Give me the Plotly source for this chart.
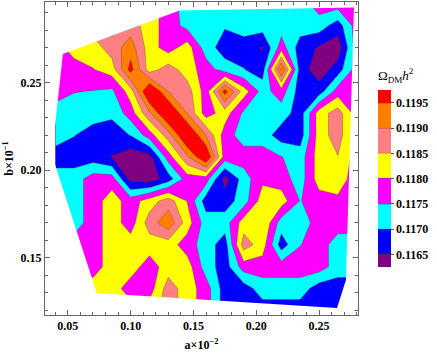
import plotly.graph_objects as go

# grid of the scan (a x 10^-2, b x 10^-1)
a_vals = [0.040, 0.055, 0.070, 0.085, 0.100, 0.115, 0.130, 0.145, 0.160,
          0.175, 0.190, 0.205, 0.220, 0.235, 0.250, 0.265, 0.280]
b_vals = [0.1200, 0.1325, 0.1450, 0.1575, 0.1700, 0.1825, 0.1950, 0.2075,
          0.2200, 0.2325, 0.2450, 0.2575, 0.2700, 0.2825, 0.2950]

# relic density Omega h^2, one row per b value (bottom to top)
omega = [
    [.11825, .11825, .11825, .11825, .11825, .11825, .11875, .11825, .11775, .11675, .11675, .11675, .11675, .11675, .11675, .11675, .11675],
    [.11825, .11825, .11825, .11825, .11775, .11775, .11875, .11825, .11775, .11675, .11675, .11725, .11725, .11725, .11675, .11675, .11675],
    [.11775, .11775, .11775, .11825, .11825, .11775, .11825, .11825, .11725, .11675, .11775, .11775, .11775, .11775, .11775, .11725, .11725],
    [.11775, .11775, .11775, .11825, .11825, .11825, .11825, .11775, .11725, .11675, .11875, .11825, .11675, .11748, .11775, .11725, .11725],
    [.11725, .11725, .11775, .11825, .11775, .11875, .11935, .11825, .11725, .11725, .11825, .11848, .11725, .11720, .11775, .11775, .11775],
    [.11725, .11725, .11775, .11825, .11775, .11825, .11875, .11798, .11675, .11675, .11725, .11825, .11825, .11748, .11775, .11790, .11775],
    [.11725, .11725, .11775, .11775, .11630, .11620, .11675, .11775, .11775, .11630, .11725, .11790, .11775, .11725, .11825, .11825, .11775],
    [.11675, .11675, .11675, .11648, .11620, .11630, .11775, .11890, .12010, .11775, .11775, .11775, .11752, .11725, .11825, .11848, .11775],
    [.11725, .11702, .11675, .11675, .11702, .11775, .11875, .12020, .11900, .11775, .11725, .11725, .11675, .11675, .11825, .11875, .11775],
    [.11725, .11725, .11725, .11710, .11775, .11890, .12020, .11900, .11775, .11825, .11740, .11725, .11725, .11675, .11825, .11875, .11775],
    [.11775, .11752, .11748, .11740, .11825, .12020, .11900, .11875, .11775, .11970, .11825, .11730, .11775, .11675, .11675, .11775, .11775],
    [.11775, .11775, .11798, .11825, .11970, .11825, .11875, .11825, .11775, .11725, .11702, .11675, .11955, .11675, .11620, .11675, .11775],
    [.11775, .11825, .11825, .11875, .11925, .11825, .11775, .11825, .11725, .11675, .11675, .11645, .11775, .11675, .11645, .11620, .11775],
    [.11825, .11825, .11875, .11925, .11875, .11825, .11775, .11735, .11725, .11705, .11725, .11725, .11725, .11725, .11725, .11675, .11775],
    [.11825, .11825, .11875, .11925, .11875, .11825, .11775, .11725, .11725, .11725, .11725, .11725, .11725, .11725, .11775, .11775, .11775],
]

# boundary of the scanned region
hull_a = [0.0460, 0.0373, 0.0730, 0.2643, 0.2714, 0.2778, 0.1389]
hull_b = [0.2663, 0.2089, 0.1300, 0.1214, 0.1374, 0.2929, 0.2911]

levels = [0.1165, 0.1170, 0.1175, 0.1180, 0.1185, 0.1190, 0.1195]
level_text = ["0.1165", "0.1170", "0.1175", "0.1180", "0.1185", "0.1190", "0.1195"]
band_colors = ["#800080", "#0000ff", "#00ffff", "#ff00ff",
               "#ffff00", "#ff8080", "#ff8000", "#ff0000"]

colorscale = [[i / (len(band_colors) - 1), c] for i, c in enumerate(band_colors)]
serif = dict(family="Liberation Serif", size=12, color="black", weight="bold")

fig = go.Figure()
fig.add_trace(go.Contour(
    x=a_vals, y=b_vals, z=omega,
    contours=dict(start=levels[0], end=levels[-1], size=0.0005, coloring="fill"),
    colorscale=colorscale,
    line=dict(width=0.6, color="rgba(70,50,50,0.55)", smoothing=0),
    colorbar=dict(
        x=1.064, xanchor="left", xpad=0,
        y=0.153, yanchor="bottom", ypad=0,
        len=0.64, lenmode="fraction", thickness=13,
        outlinewidth=0,
        tickvals=levels, ticktext=level_text,
        ticks="outside", ticklen=3, tickcolor="#555",
        tickfont=serif,
        title=dict(text="Ω<sub>DM</sub><i>h</i><sup>2</sup>", side="top",
                   font=dict(family="Liberation Serif", size=13, color="black")),
    ),
    hoverinfo="skip",
))

# blank out everything outside the scanned region
ring_x = [0.0, 0.3, 0.3, 0.0, 0.0] + hull_a[::-1] + [hull_a[-1], 0.0]
ring_y = [0.1, 0.1, 0.31, 0.31, 0.1] + hull_b[::-1] + [hull_b[-1], 0.1]
fig.add_trace(go.Scatter(x=ring_x, y=ring_y, mode="lines", fill="toself",
                         fillcolor="white", line=dict(width=0, color="white"),
                         showlegend=False, hoverinfo="skip"))

axis_common = dict(
    showline=True, mirror="allticks", linecolor="#666", linewidth=1,
    ticks="inside", ticklen=5, tickcolor="#666", tickwidth=1,
    showgrid=False, zeroline=False, tickfont=serif,
    minor=dict(ticks="inside", ticklen=3, dtick=0.01, tickcolor="#666", showgrid=False),
)
fig.update_xaxes(range=[0.0318, 0.2810], dtick=0.05, tick0=0.05, tickformat=".2f",
                 title=dict(text="a×10<sup>−2</sup>", font=serif, standoff=8),
                 **axis_common)
fig.update_yaxes(range=[0.1174, 0.2960], dtick=0.05, tick0=0.05, tickformat=".2f",
                 title=dict(text="b×10<sup>−1</sup>", font=serif, standoff=4),
                 **axis_common)

fig.update_layout(
    width=437, height=356,
    margin=dict(l=45, r=79, t=2, b=41),
    paper_bgcolor="white", plot_bgcolor="white",
    showlegend=False,
)

fig.write_html("out.html", config={"displayModeBar": False},
               post_script="document.body.style.margin='0';")
